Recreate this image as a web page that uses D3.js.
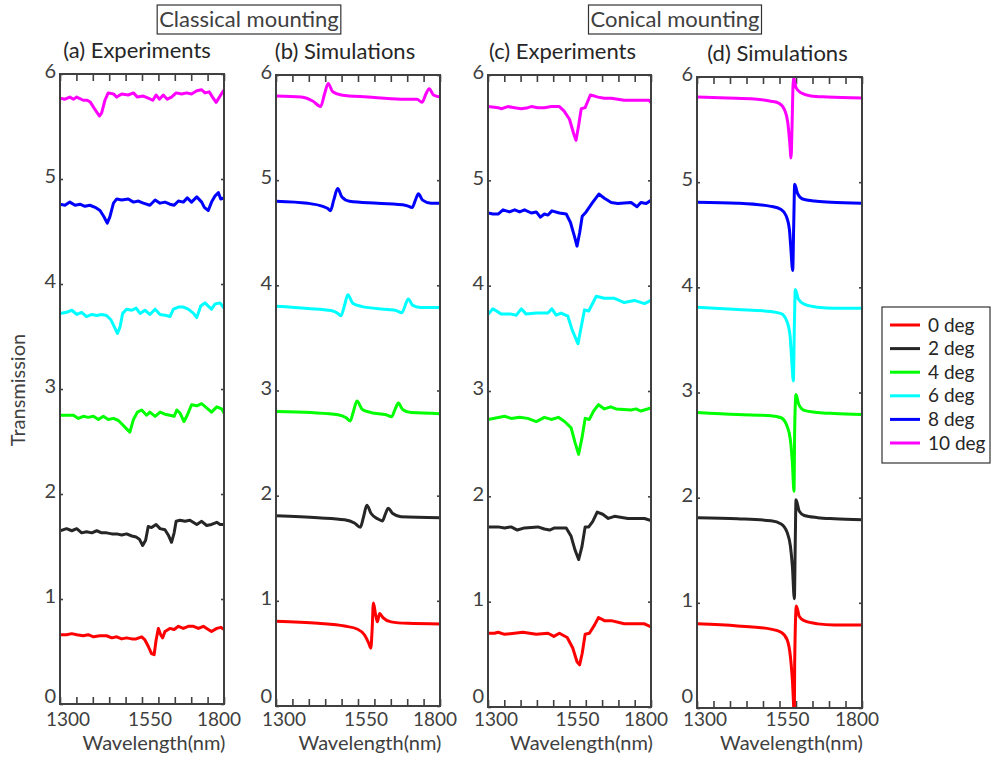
<!DOCTYPE html>
<html>
<head>
<meta charset="utf-8">
<script src="https://cdn.jsdelivr.net/npm/d3@7"></script>
<style>
  body { margin: 0; background: #fff; }
  text { font-family: Lato, "Noto Sans", sans-serif; fill: #404040; }
</style>
</head>
<body>
<svg id="chart" width="992" height="757"></svg>
<script>
// ---- data ----
var angles = [0, 2, 4, 6, 8, 10];
var lineColors = ["#ff0000", "#262626", "#00ff00", "#00ffff", "#0000ff", "#ff00ff"];
var panelTitles = ["(a) Experiments", "(b) Simulations", "(c) Experiments", "(d) Simulations"];
var groupTitles = ["Classical mounting", "Conical mounting"];
var yTicks = [0, 1, 2, 3, 4, 5, 6];
var xTickLabels = [1300, 1550, 1800];
var xMinorTicks = [1300, 1350, 1400, 1450, 1500, 1550, 1600, 1650, 1700, 1750, 1800];

// (a) classical, experiments
var expClassical0 = [[1300,0.66],[1320,0.66],[1336,0.67],[1351,0.66],[1371,0.65],[1386,0.66],[1402,0.64],[1422,0.65],[1442,0.65],[1458,0.63],[1473,0.64],[1488,0.62],[1503,0.63],[1519,0.62],[1532,0.62],[1549,0.64],[1559,0.61],[1569,0.55],[1579,0.48],[1587,0.47],[1593,0.61],[1600,0.72],[1607,0.66],[1613,0.63],[1620,0.69],[1635,0.72],[1648,0.71],[1661,0.74],[1676,0.72],[1691,0.74],[1707,0.74],[1722,0.72],[1737,0.74],[1752,0.71],[1762,0.69],[1778,0.72],[1790,0.73],[1800,0.71]];
var expClassical2 = [[1300,1.65],[1320,1.67],[1336,1.65],[1351,1.67],[1366,1.63],[1381,1.64],[1397,1.63],[1412,1.65],[1427,1.63],[1442,1.63],[1458,1.62],[1473,1.62],[1488,1.61],[1503,1.62],[1519,1.60],[1532,1.59],[1542,1.57],[1552,1.51],[1561,1.56],[1569,1.69],[1579,1.68],[1593,1.71],[1605,1.67],[1620,1.66],[1630,1.61],[1640,1.54],[1648,1.63],[1654,1.74],[1666,1.75],[1681,1.74],[1696,1.75],[1717,1.71],[1732,1.74],[1747,1.70],[1762,1.71],[1778,1.73],[1788,1.71],[1800,1.71]];
var expClassical4 = [[1300,2.75],[1320,2.75],[1341,2.75],[1356,2.72],[1371,2.74],[1386,2.73],[1402,2.74],[1417,2.71],[1432,2.74],[1447,2.71],[1463,2.72],[1478,2.70],[1491,2.66],[1503,2.62],[1513,2.59],[1524,2.71],[1536,2.78],[1549,2.80],[1564,2.75],[1574,2.78],[1590,2.74],[1605,2.78],[1620,2.76],[1635,2.75],[1648,2.74],[1656,2.80],[1666,2.77],[1678,2.69],[1688,2.75],[1701,2.85],[1717,2.84],[1732,2.86],[1747,2.82],[1762,2.78],[1778,2.83],[1793,2.81],[1800,2.77]];
var expClassical6 = [[1300,3.72],[1320,3.73],[1336,3.75],[1351,3.71],[1366,3.73],[1381,3.69],[1397,3.71],[1412,3.70],[1427,3.71],[1442,3.70],[1455,3.66],[1466,3.59],[1475,3.53],[1483,3.59],[1491,3.72],[1503,3.76],[1519,3.75],[1532,3.77],[1544,3.72],[1559,3.75],[1574,3.71],[1590,3.76],[1605,3.71],[1625,3.70],[1635,3.69],[1646,3.76],[1661,3.78],[1676,3.78],[1691,3.76],[1707,3.72],[1717,3.68],[1729,3.79],[1742,3.82],[1752,3.79],[1762,3.76],[1773,3.81],[1788,3.82],[1800,3.77]];
var expClassical8 = [[1300,4.76],[1315,4.75],[1330,4.78],[1346,4.75],[1361,4.76],[1376,4.74],[1391,4.75],[1407,4.73],[1422,4.70],[1434,4.64],[1444,4.58],[1452,4.64],[1463,4.77],[1473,4.81],[1488,4.80],[1508,4.81],[1524,4.78],[1539,4.79],[1554,4.77],[1574,4.75],[1590,4.80],[1605,4.77],[1620,4.78],[1635,4.76],[1648,4.75],[1661,4.79],[1676,4.78],[1688,4.82],[1701,4.78],[1717,4.83],[1732,4.78],[1740,4.73],[1752,4.70],[1762,4.78],[1773,4.84],[1783,4.87],[1790,4.81],[1800,4.82]];
var expClassical10 = [[1300,5.77],[1315,5.76],[1330,5.78],[1341,5.76],[1351,5.78],[1371,5.75],[1383,5.75],[1393,5.73],[1407,5.66],[1420,5.60],[1427,5.63],[1437,5.75],[1447,5.82],[1463,5.81],[1473,5.78],[1488,5.81],[1508,5.80],[1524,5.82],[1536,5.78],[1554,5.79],[1569,5.77],[1583,5.75],[1593,5.80],[1603,5.76],[1615,5.80],[1627,5.76],[1640,5.78],[1654,5.82],[1671,5.81],[1686,5.82],[1701,5.81],[1717,5.84],[1732,5.85],[1742,5.82],[1755,5.83],[1765,5.78],[1776,5.73],[1786,5.78],[1798,5.84]];

// (b) classical, simulations
var simClassical0 = [[1300,0.805],[1428,0.786],[1509,0.76],[1549,0.73],[1570,0.675],[1583,0.595],[1589,0.55],[1593,0.72],[1597,0.98],[1603,0.88],[1609,0.80],[1616,0.88],[1626,0.84],[1651,0.80],[1702,0.786],[1800,0.78]];
var simClassical2 = [[1300,1.81],[1428,1.79],[1509,1.77],[1539,1.74],[1557,1.70],[1567,1.80],[1577,1.91],[1590,1.83],[1610,1.78],[1624,1.76],[1634,1.83],[1642,1.88],[1656,1.83],[1681,1.80],[1800,1.79]];
var simClassical4 = [[1300,2.80],[1408,2.79],[1489,2.77],[1514,2.74],[1526,2.71],[1536,2.80],[1547,2.90],[1563,2.82],[1590,2.79],[1636,2.77],[1652,2.75],[1663,2.82],[1673,2.88],[1686,2.82],[1712,2.79],[1800,2.78]];
var simClassical6 = [[1300,3.80],[1397,3.78],[1468,3.76],[1490,3.73],[1498,3.71],[1509,3.81],[1519,3.91],[1534,3.83],[1560,3.80],[1641,3.77],[1666,3.76],[1684,3.74],[1694,3.81],[1703,3.87],[1717,3.81],[1742,3.79],[1800,3.79]];
var simClassical8 = [[1300,4.80],[1397,4.78],[1443,4.75],[1458,4.73],[1466,4.71],[1476,4.81],[1488,4.92],[1501,4.84],[1524,4.80],[1610,4.78],[1697,4.76],[1715,4.74],[1725,4.81],[1734,4.87],[1747,4.81],[1773,4.78],[1800,4.78]];
var simClassical10 = [[1300,5.80],[1377,5.79],[1413,5.75],[1436,5.70],[1448,5.82],[1459,5.92],[1473,5.84],[1499,5.81],[1580,5.79],[1681,5.77],[1730,5.77],[1745,5.74],[1757,5.82],[1767,5.87],[1780,5.81],[1800,5.79]];

// (c) conical, experiments
var expConical0 = [[1300,0.70],[1320,0.70],[1331,0.71],[1351,0.69],[1407,0.71],[1448,0.69],[1484,0.70],[1502,0.67],[1519,0.70],[1543,0.66],[1560,0.56],[1573,0.43],[1581,0.40],[1589,0.51],[1598,0.69],[1611,0.70],[1627,0.78],[1639,0.85],[1657,0.82],[1678,0.82],[1718,0.79],[1759,0.79],[1780,0.79],[1800,0.76]];
var expConical2 = [[1300,1.71],[1331,1.71],[1351,1.70],[1371,1.71],[1390,1.68],[1412,1.70],[1453,1.71],[1473,1.69],[1489,1.68],[1504,1.70],[1540,1.70],[1555,1.62],[1567,1.49],[1578,1.40],[1588,1.52],[1598,1.71],[1609,1.71],[1621,1.76],[1635,1.85],[1652,1.83],[1669,1.79],[1688,1.81],[1729,1.79],[1780,1.79],[1800,1.77]];
var expConical4 = [[1300,2.73],[1351,2.76],[1371,2.74],[1397,2.75],[1422,2.74],[1448,2.71],[1473,2.75],[1494,2.73],[1516,2.75],[1535,2.71],[1555,2.65],[1567,2.51],[1578,2.40],[1588,2.55],[1598,2.74],[1611,2.73],[1624,2.81],[1639,2.87],[1657,2.83],[1676,2.85],[1693,2.83],[1739,2.82],[1754,2.83],[1769,2.81],[1800,2.84]];
var expConical6 = [[1300,3.73],[1315,3.78],[1341,3.73],[1371,3.73],[1387,3.72],[1402,3.78],[1417,3.73],[1448,3.74],[1484,3.74],[1496,3.78],[1509,3.72],[1524,3.74],[1545,3.71],[1558,3.58],[1576,3.45],[1586,3.61],[1596,3.77],[1609,3.76],[1632,3.90],[1657,3.88],[1688,3.88],[1718,3.84],[1749,3.86],[1780,3.83],[1800,3.86]];
var expConical8 = [[1300,4.69],[1315,4.68],[1331,4.68],[1346,4.72],[1366,4.70],[1382,4.72],[1397,4.70],[1412,4.72],[1433,4.69],[1448,4.70],[1461,4.65],[1473,4.68],[1484,4.67],[1496,4.71],[1519,4.69],[1540,4.68],[1553,4.60],[1565,4.47],[1573,4.375],[1581,4.50],[1589,4.66],[1601,4.70],[1621,4.79],[1640,4.87],[1657,4.83],[1678,4.79],[1698,4.78],[1739,4.79],[1757,4.75],[1769,4.79],[1785,4.78],[1800,4.81]];
var expConical10 = [[1300,5.70],[1331,5.69],[1341,5.68],[1361,5.70],[1382,5.69],[1402,5.68],[1422,5.69],[1433,5.70],[1453,5.69],[1473,5.69],[1494,5.70],[1519,5.70],[1533,5.66],[1550,5.58],[1563,5.44],[1570,5.38],[1578,5.52],[1586,5.68],[1598,5.69],[1614,5.81],[1627,5.80],[1637,5.79],[1657,5.78],[1678,5.78],[1698,5.77],[1718,5.76],[1749,5.76],[1780,5.76],[1794,5.76],[1800,5.74]];

// (d) conical, simulations
var simConical0 = [[1300,0.80],[1423,0.78],[1524,0.75],[1555,0.72],[1573,0.65],[1583,0.49],[1589,0.27],[1595,-0.05],[1596,0.43],[1601,0.97],[1610,0.87],[1625,0.83],[1666,0.80],[1716,0.79],[1800,0.79]];
var simConical2 = [[1300,1.81],[1423,1.80],[1524,1.78],[1555,1.75],[1573,1.67],[1583,1.54],[1589,1.35],[1595,1.04],[1598,1.63],[1600,1.98],[1610,1.87],[1625,1.83],[1666,1.81],[1716,1.80],[1800,1.79]];
var simConical4 = [[1300,2.81],[1423,2.79],[1524,2.78],[1555,2.76],[1573,2.68],[1583,2.55],[1589,2.33],[1594,2.06],[1596,2.65],[1600,2.98],[1608,2.89],[1625,2.83],[1666,2.81],[1716,2.80],[1800,2.79]];
var simConical6 = [[1300,3.81],[1423,3.79],[1524,3.77],[1555,3.75],[1572,3.68],[1582,3.54],[1587,3.31],[1592,3.11],[1595,3.63],[1598,3.98],[1607,3.89],[1625,3.84],[1666,3.81],[1716,3.80],[1800,3.80]];
var simConical8 = [[1300,4.81],[1423,4.80],[1524,4.77],[1555,4.74],[1570,4.68],[1580,4.55],[1584,4.39],[1590,4.16],[1593,4.58],[1596,4.98],[1605,4.89],[1620,4.84],[1656,4.82],[1706,4.81],[1800,4.80]];
var simConical10 = [[1300,5.81],[1393,5.80],[1474,5.79],[1524,5.77],[1549,5.75],[1565,5.69],[1575,5.57],[1581,5.38],[1585,5.23],[1588,5.53],[1591,5.92],[1593,5.99],[1600,5.90],[1615,5.85],[1645,5.82],[1696,5.81],[1800,5.80]];

var panelSeries = [
  [expClassical0, expClassical2, expClassical4, expClassical6, expClassical8, expClassical10],
  [simClassical0, simClassical2, simClassical4, simClassical6, simClassical8, simClassical10],
  [expConical0, expConical2, expConical4, expConical6, expConical8, expConical10],
  [simConical0, simConical2, simConical4, simConical6, simConical8, simConical10]
];

// ---- layout ----
var panelLeft = [60, 276, 488, 697];
var panelTop = [74, 75, 75, 77];
var panelW = [164, 164, 163, 165];
var panelH = [630, 631, 632, 631];
var titleShift = [-5, -13, -7, -2];
var tickLabelBase = 726;   // page y of the x tick-label baseline
var axisLabelBase = 750;   // page y of the "Wavelength(nm)" baseline
var zeroLabelY = 695.5;    // page y of the "0" label, kept clear of "1300"
var frameColor = "#404040";

var svg = d3.select("#chart");

panelSeries.forEach(function(seriesList, p) {
  var w = panelW[p], h = panelH[p];
  var x = d3.scaleLinear().domain([1300, 1800]).range([0, w]);
  var y = d3.scaleLinear().domain([0, 6]).range([h, 0]);
  var smooth = (p === 1 || p === 3);

  var g = svg.append("g").attr("transform", "translate(" + panelLeft[p] + "," + panelTop[p] + ")");

  g.append("clipPath").attr("id", "clip" + p)
    .append("rect").attr("width", w).attr("height", h);

  // tick marks (inward) on all four sides
  g.append("g").attr("transform", "translate(0," + h + ")")
    .call(d3.axisBottom(x).tickValues(xMinorTicks).tickSize(-7).tickFormat(""));
  g.append("g")
    .call(d3.axisTop(x).tickValues(xMinorTicks).tickSize(-7).tickFormat(""));
  g.append("g")
    .call(d3.axisLeft(y).tickValues(yTicks).tickSize(-3).tickFormat(""));
  g.append("g").attr("transform", "translate(" + w + ",0)")
    .call(d3.axisRight(y).tickValues(yTicks).tickSize(-3).tickFormat(""));
  g.selectAll(".domain").remove();
  g.selectAll(".tick line").attr("stroke", frameColor).attr("stroke-width", 1.6);

  // curves
  var line = d3.line()
    .x(function(d) { return x(d[0]); })
    .y(function(d) { return y(d[1]); })
    .curve(smooth ? d3.curveMonotoneX : d3.curveLinear);

  g.append("g").attr("clip-path", "url(#clip" + p + ")")
    .selectAll("path").data(seriesList).enter().append("path")
    .attr("d", line)
    .attr("fill", "none")
    .attr("stroke", function(d, i) { return lineColors[i]; })
    .attr("stroke-width", 3)
    .attr("stroke-linejoin", "round")
    .attr("stroke-linecap", "round");

  // frame
  g.append("rect").attr("width", w).attr("height", h)
    .attr("fill", "none").attr("stroke", frameColor).attr("stroke-width", 2);

  // y tick labels (the 0 sits a little higher so it clears the 1300 below it)
  g.selectAll(".ylab").data(yTicks).enter().append("text")
    .attr("class", "ylab")
    .attr("x", -4).attr("y", function(d) { return d === 0 ? zeroLabelY - panelTop[p] : y(d) - 3; })
    .attr("dy", "0.36em")
    .attr("text-anchor", "end")
    .style("font-size", "20px")
    .text(function(d) { return d; });

  // x tick labels
  var xShift = [8, 8, -5];
  g.selectAll(".xlab").data(xTickLabels).enter().append("text")
    .attr("class", "xlab")
    .attr("x", function(d, i) { return x(d) + xShift[i]; })
    .attr("y", tickLabelBase - panelTop[p])
    .attr("text-anchor", "middle")
    .style("font-size", "19px")
    .text(function(d) { return d; });

  // x axis label
  g.append("text")
    .attr("x", w / 2 + 12).attr("y", axisLabelBase - panelTop[p])
    .attr("text-anchor", "middle")
    .style("font-size", "20px")
    .text("Wavelength(nm)");

  // panel title
  g.append("text")
    .attr("x", w / 2 + titleShift[p]).attr("y", -16)
    .attr("text-anchor", "middle")
    .style("font-size", "22px")
    .style("fill", "#262626")
    .text(panelTitles[p]);
});

// group headers in boxes
var headerCenter = [249, 675];
headerCenter.forEach(function(cx, i) {
  var t = svg.append("text")
    .attr("x", cx).attr("y", 27)
    .attr("text-anchor", "middle")
    .style("font-size", "22px")
    .text(groupTitles[i]);
  var bb = t.node().getBBox();
  svg.insert("rect", function() { return t.node(); })
    .attr("x", bb.x - 2).attr("y", 5)
    .attr("width", bb.width + 4).attr("height", 29)
    .attr("fill", "#fff").attr("stroke", "#333").attr("stroke-width", 1.2);
});

// y axis label
svg.append("text")
  .attr("transform", "translate(25,390) rotate(-90)")
  .attr("text-anchor", "middle")
  .style("font-size", "20px")
  .text("Transmission");

// legend
var legend = svg.append("g").attr("transform", "translate(882,307)");
legend.append("rect").attr("width", 108).attr("height", 156)
  .attr("fill", "#fff").attr("stroke", "#333").attr("stroke-width", 1.2);
var item = legend.selectAll(".item").data(angles).enter().append("g")
  .attr("transform", function(d, i) { return "translate(0," + (18 + i * 23.6) + ")"; });
item.append("line").attr("x1", 8).attr("x2", 38)
  .attr("stroke", function(d, i) { return lineColors[i]; })
  .attr("stroke-width", 3);
item.append("text").attr("x", 46).attr("dy", "0.35em")
  .style("font-size", "19px").style("fill", "#262626")
  .text(function(d) { return d + " deg"; });
</script>
</body>
</html>
